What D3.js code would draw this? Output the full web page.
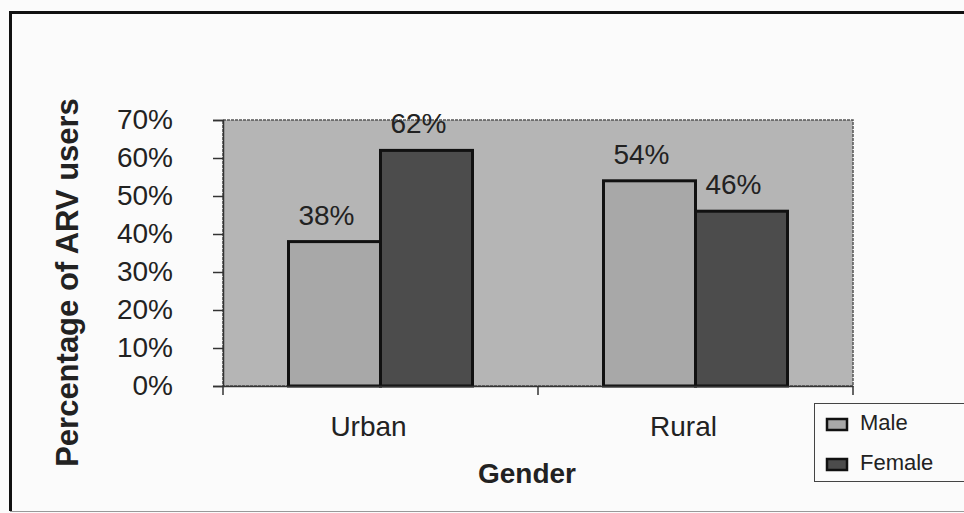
<!DOCTYPE html>
<html>
<head>
<meta charset="utf-8">
<script src="https://cdn.jsdelivr.net/npm/d3@7"></script>
<style>
  html, body { margin: 0; padding: 0; background: #fbfbfb; }
  svg { display: block; font-family: "Liberation Sans", Arial, sans-serif; }
</style>
</head>
<body>
<svg id="chart" width="964" height="513"></svg>
<script>
// Share of ARV users by residence, split by gender
const categories = ["Urban", "Rural"];
const seriesNames = ["Male", "Female"];
const maleValues = [38, 54];
const femaleValues = [62, 46];
const yTicks = [0, 10, 20, 30, 40, 50, 60, 70];
const yTitle = "Percentage of ARV users";
const xTitle = "Gender";

const colors = { Male: "#a8a8a8", Female: "#4c4c4c" };

const svg = d3.select("#chart");
const W = 964, H = 513;

// outer frame
svg.append("rect").attr("x", 0).attr("y", 0).attr("width", W).attr("height", H).attr("fill", "#fbfbfb");
svg.append("path")
  .attr("d", `M10.5,${H - 2} L10.5,12.5 L${W},12.5`)
  .attr("fill", "none").attr("stroke", "#111").attr("stroke-width", 3);
svg.append("line").attr("x1", 10).attr("x2", W).attr("y1", H - 1.5).attr("y2", H - 1.5)
  .attr("stroke", "#999").attr("stroke-width", 1);

const plot = { left: 223, top: 120, right: 853, bottom: 386 };

const x = d3.scaleBand().domain(categories).range([plot.left, plot.right]).paddingInner(0).paddingOuter(0);
const groupWidth = 184;
const xs = d3.scaleBand().domain(seriesNames).range([0, groupWidth]).padding(0);
const y = d3.scaleLinear().domain([0, 70]).range([plot.bottom, plot.top]);

// plot area
svg.append("rect")
  .attr("x", plot.left).attr("y", plot.top)
  .attr("width", plot.right - plot.left).attr("height", plot.bottom - plot.top)
  .attr("fill", "#b5b5b5").attr("stroke", "#555").attr("stroke-width", 1.5)
  .attr("stroke-dasharray", "3,1");

const rows = categories.map((c, i) => ({
  category: c,
  values: [
    { series: "Male", value: maleValues[i] },
    { series: "Female", value: femaleValues[i] }
  ]
}));

const groups = svg.selectAll("g.group").data(rows).join("g")
  .attr("class", "group")
  .attr("transform", d => `translate(${x(d.category) + (x.bandwidth() - groupWidth) / 2},0)`);

groups.selectAll("rect").data(d => d.values).join("rect")
  .attr("x", d => xs(d.series))
  .attr("y", d => y(d.value))
  .attr("width", xs.bandwidth())
  .attr("height", d => y(0) - y(d.value))
  .attr("fill", d => colors[d.series])
  .attr("stroke", "#111").attr("stroke-width", 3);

groups.selectAll("text.val").data(d => d.values).join("text")
  .attr("class", "val")
  .attr("x", d => xs(d.series) + xs.bandwidth() / 2 - 8)
  .attr("y", d => y(d.value) - 17)
  .attr("text-anchor", "middle")
  .attr("font-size", 28).attr("fill", "#222")
  .text(d => d.value + "%");

// y axis
const yAxis = d3.axisLeft(y).tickValues(yTicks).tickFormat(d => d + "%").tickSize(10).tickPadding(40);
const yg = svg.append("g").attr("transform", `translate(${plot.left},0)`).call(yAxis);
yg.select(".domain").attr("stroke", "#333").attr("stroke-width", 1.5);
yg.selectAll(".tick line").attr("stroke", "#333").attr("stroke-width", 1.5);
yg.selectAll(".tick text").attr("font-size", 28).attr("fill", "#222")
  .attr("font-family", "Liberation Sans, Arial, sans-serif");

// x axis
const xAxis = d3.axisBottom(x).tickSize(0).tickPadding(30);
const xg = svg.append("g").attr("transform", `translate(0,${plot.bottom})`).call(xAxis);
xg.select(".domain").attr("stroke", "#333").attr("stroke-width", 1.5);
xg.selectAll(".tick text").attr("font-size", 28).attr("fill", "#222")
  .attr("font-family", "Liberation Sans, Arial, sans-serif").attr("dy", "0.71em")
  .attr("dx", -12);
// category separators
const sepPositions = [plot.left, x("Rural"), plot.right];
svg.selectAll("line.sep").data(sepPositions).join("line")
  .attr("class", "sep")
  .attr("x1", d => d).attr("x2", d => d)
  .attr("y1", plot.bottom).attr("y2", plot.bottom + 9)
  .attr("stroke", "#333").attr("stroke-width", 1.5);

// axis titles
svg.append("text")
  .attr("transform", `translate(78,${(95 + 470) / 2}) rotate(-90)`)
  .attr("text-anchor", "middle")
  .attr("font-size", 31).attr("font-weight", "bold").attr("fill", "#222")
  .text(yTitle);

svg.append("text")
  .attr("x", (plot.left + plot.right) / 2 - 11).attr("y", 483)
  .attr("text-anchor", "middle")
  .attr("font-size", 28).attr("font-weight", "bold").attr("fill", "#222")
  .text(xTitle);

// legend
const legend = svg.append("g").attr("transform", "translate(814,403)");
legend.append("rect").attr("x", 0.5).attr("y", 0.5).attr("width", 160).attr("height", 78)
  .attr("fill", "#fbfbfb").attr("stroke", "#444").attr("stroke-width", 1);
const items = legend.selectAll("g.item").data(seriesNames).join("g")
  .attr("class", "item")
  .attr("transform", (d, i) => `translate(13,${16 + i * 40})`);
items.append("rect").attr("width", 20).attr("height", 11)
  .attr("fill", d => colors[d]).attr("stroke", "#111").attr("stroke-width", 2.5);
items.append("text").attr("x", 33).attr("y", 11)
  .attr("font-size", 22).attr("fill", "#222")
  .text(d => d);
</script>
</body>
</html>
